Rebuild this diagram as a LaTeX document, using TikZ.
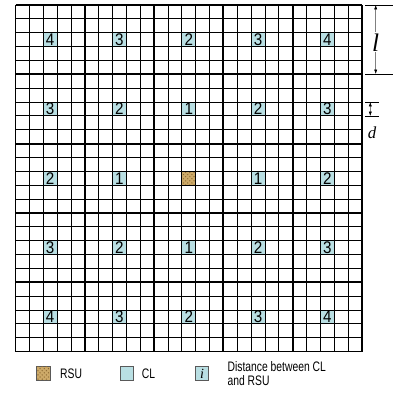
\documentclass[tikz,border=0pt]{standalone}
\usepackage{fontspec}
\setmainfont{Liberation Sans}[FakeStretch=0.75]
\newfontfamily\digitfont{Liberation Sans}[FakeStretch=0.9]
\newfontfamily\serifit{Liberation Serif}
\usepackage{xcolor}
\usetikzlibrary{arrows.meta, positioning, patterns}
\definecolor{clcyan}{RGB}{185,223,227}
\definecolor{rsutan}{RGB}{205,170,105}
\definecolor{rsudark}{RGB}{140,105,50}

\begin{document}
\begin{tikzpicture}[
  x=0.025cm, y=-0.025cm,
  gridthin/.style={line width=0.6pt},
  gridthick/.style={line width=1.3pt},
  clcell/.style={draw=black, line width=0.6pt, fill=clcyan, minimum size=0.3465cm, inner sep=0pt,
    font=\digitfont\fontsize{12}{12}\selectfont},
  rsucell/.style={draw=black, line width=0.6pt, fill=rsutan, minimum size=0.3465cm, inner sep=0pt,
    postaction={pattern=crosshatch dots, pattern color=rsudark}},
  legbox/.style={draw=gray!70!black, line width=0.5pt, minimum size=0.33cm, inner sep=0pt},
  legtext/.style={font=\fontsize{9.8}{10}\selectfont, inner sep=0pt, align=left},
  dimline/.style={line width=0.6pt},
  dimarrow/.style={gray, line width=0.4pt,
    {Latex[length=1.1mm,width=0.8mm,black]}-{Latex[length=1.1mm,width=0.8mm,black]}}
]
\useasboundingbox (0,0) rectangle (394,396);

% CL cells and the RSU in the centre block
\foreach \i in {0,...,4}
  \foreach \j in {0,...,4}{
    \pgfmathtruncatemacro\dist{abs(\i-2)+abs(\j-2)}
    \ifnum\dist=0
      \node[rsucell] (rsu) at ({15.5+(5*\i+2.5)*13.86},{5+(5*\j+2.5)*13.86}) {};
    \else
      \node[clcell] (cl-\i-\j) at ({15.5+(5*\i+2.5)*13.86},{5+(5*\j+2.5)*13.86}) {\raisebox{-1.5pt}{\dist}};
    \fi
  }

% grid
\foreach \k in {0,...,25}{
  \draw[gridthin] ({15.5+\k*13.86},5) -- ({15.5+\k*13.86},351.5);
  \draw[gridthin] (15.5,{5+\k*13.86}) -- (362,{5+\k*13.86});
}
\foreach \k in {0,5,...,25}{
  \draw[gridthick] ({15.5+\k*13.86},5) -- ({15.5+\k*13.86},351.5);
  \draw[gridthick] (15.5,{5+\k*13.86}) -- (362,{5+\k*13.86});
}

% block size l
\coordinate (ltopL) at (365,5);
\coordinate (ltopR) at (393,5);
\coordinate (lbotL) at (365,74);
\coordinate (lbotR) at (393,74);
\coordinate (ltop) at (375.7,5);
\coordinate (lbot) at (375.7,74);
\draw[dimline] (ltopL) -- (ltopR);
\draw[dimline] (lbotL) -- (lbotR);
\draw[dimarrow] (ltop) -- node[pos=0.54, fill=white, text=black, inner sep=1pt,
  font=\serifit\itshape\fontsize{18}{18}\selectfont] (llab) {l} (lbot);

% cell size d
\coordinate (dtopL) at (365,102);
\coordinate (dtopR) at (379,102);
\coordinate (dbotL) at (365,116);
\coordinate (dbotR) at (379,116);
\coordinate (dtop) at (370.3,102);
\coordinate (dbot) at (370.3,116);
\draw[dimline] (dtopL) -- (dtopR);
\draw[dimline] (dbotL) -- (dbotR);
\draw[dimarrow] (dtop) -- (dbot);
\node[font=\serifit\itshape\fontsize{12}{12}\selectfont] (dlab) at (372,133) {d};

% legend
\node[legbox, fill=rsutan, postaction={pattern=crosshatch dots, pattern color=rsudark}] (rsuleg) at (43.4,373.4) {};
\node[legtext, right=2.4mm of rsuleg] (rsutxt) {RSU};
\node[legbox, fill=clcyan] (clleg) at (126.7,373.4) {};
\node[legtext, right=2mm of clleg] (cltxt) {CL};
\node[legbox, fill=clcyan, font=\serifit\itshape\fontsize{10}{10}\selectfont] (distleg) at (202,373.4) {i};
\node[legtext, right=4.6mm of distleg] (disttxt) {Distance between CL\\and RSU};
\end{tikzpicture}
\end{document}
